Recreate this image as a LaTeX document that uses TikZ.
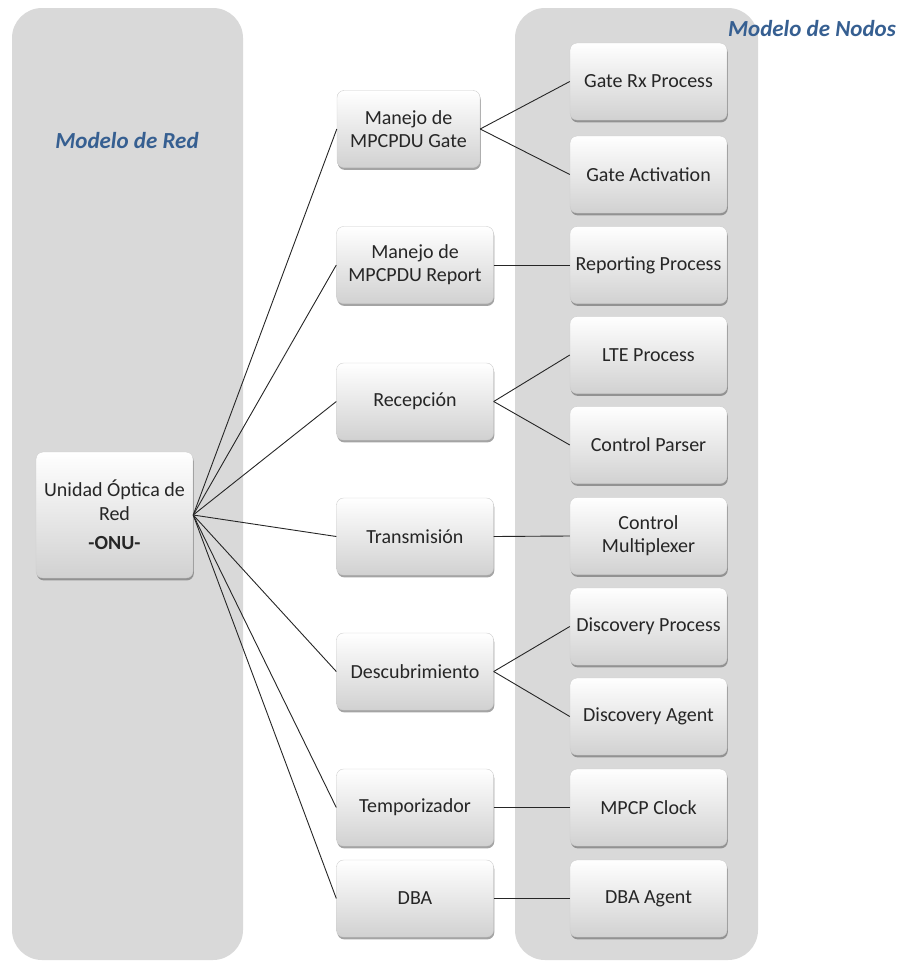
\documentclass[tikz,border=0pt]{standalone}
\usepackage{fontspec}
\setmainfont{Carlito}
\usetikzlibrary{shadows}
\definecolor{panelgray}{RGB}{217,217,217}
\definecolor{titleblue}{RGB}{54,95,145}
\definecolor{boxtext}{RGB}{38,38,38}

\begin{document}
\begin{tikzpicture}[x=1pt,y=-1pt,
  panel/.style={fill=panelgray, rounded corners=30pt},
  box/.style={rectangle, rounded corners=7pt, minimum width=157pt, minimum height=77pt,
    inner sep=2pt, align=center, top color=white, bottom color=black!18,
    draw=black!20, line width=0.4pt,
    drop shadow={shadow xshift=0.8pt, shadow yshift=-2.4pt, fill=black!65, opacity=0.55},
    font=\fontsize{20}{23}\selectfont, text=boxtext},
  title/.style={font=\fontsize{23}{26}\selectfont\bfseries\itshape, text=titleblue},
  link/.style={draw=black!85, line width=0.9pt}
]
\useasboundingbox (0,0) rectangle (906,961);

% background panels
\path[panel] (12,8) rectangle (243,960);
\path[panel] (515,8) rectangle (758,960);

% panel titles
\node[title] (redtitle) at (127,141) {Modelo de Red};
\node[title] (nodostitle) at (812,29) {Modelo de Nodos};

% optical network unit
\node[box, minimum height=126pt, font=\fontsize{20}{24}\selectfont] (onu) at (114.5,515)
  {Unidad Óptica de\\Red\\[5pt]\textbf{-ONU-}};

% network model blocks
\node[box, minimum width=143pt] (gate) at (408.5,129) {Manejo de\\MPCPDU Gate};
\node[box] (report) at (415,265) {Manejo de\\MPCPDU Report};
\node[box] (recep)  at (415,401.5) {Recepción};
\node[box] (trans)  at (415,536.5) {Transmisión};
\node[box] (desc)   at (415,671.5) {Descubrimiento};
\node[box] (temp)   at (415,807.5) {Temporizador};
\node[box] (dba)    at (415,898.5) {DBA};

% node model blocks
\node[box] (gaterx)    at (648.5,81.5)  {Gate Rx Process};
\node[box] (gateact)   at (648.5,174.5) {Gate Activation};
\node[box] (reporting) at (648.5,265)   {Reporting Process};
\node[box] (lte)       at (648.5,355)   {LTE Process};
\node[box] (parser)    at (648.5,445)   {Control Parser};
\node[box] (mux)       at (648.5,536)   {Control\\Multiplexer};
\node[box] (dproc)     at (648.5,626.5) {Discovery Process};
\node[box] (dagent)    at (648.5,716.5) {Discovery Agent};
\node[box] (clock)     at (648.5,807.5) {MPCP Clock};
\node[box] (dbaagent)  at (648.5,898.5) {DBA Agent};

% connectors from the ONU
\foreach \m in {gate,report,recep,trans,desc,temp,dba}
  \draw[link] (onu.east) -- (\m.west);

% connectors to the node model
\draw[link] (gate.east) -- (gaterx.west);
\draw[link] (gate.east) -- (gateact.west);
\draw[link] (report.east) -- (reporting.west);
\draw[link] (recep.east) -- (lte.west);
\draw[link] (recep.east) -- (parser.west);
\draw[link] (trans.east) -- (mux.west);
\draw[link] (desc.east) -- (dproc.west);
\draw[link] (desc.east) -- (dagent.west);
\draw[link] (temp.east) -- (clock.west);
\draw[link] (dba.east) -- (dbaagent.west);
\end{tikzpicture}
\end{document}
